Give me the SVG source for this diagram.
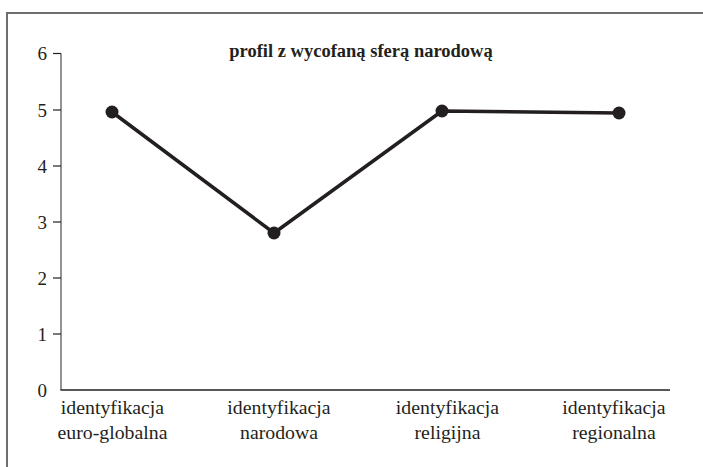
<svg xmlns="http://www.w3.org/2000/svg" width="703" height="467" viewBox="0 0 703 467">
<style>
.frame{stroke:#6d6e71;stroke-width:2;fill:none}
.axis{stroke:#231f20;stroke-width:1.5;fill:none}
.yaxis{stroke:#58595b;stroke-width:1.3;fill:none}
.tick{stroke:#231f20;stroke-width:1.2}
.tl{font-family:"Liberation Serif",serif;font-size:19px;fill:#231f20;text-anchor:end}
.lab{font-family:"Liberation Serif",serif;font-size:19.8px;fill:#231f20;text-anchor:middle}
.title{font-family:"Liberation Serif",serif;font-size:18.5px;font-weight:bold;fill:#231f20;text-anchor:middle}
.series{stroke:#231f20;stroke-width:3.5;fill:none;stroke-linejoin:round}
.pt{fill:#231f20}
</style>
<rect width="703" height="467" fill="#fff"/>
<path class="frame" d="M7,467 V13 H703"/>
<g id="axes">
<line class="yaxis" x1="61" y1="53.5" x2="61" y2="390"/>
<line class="axis" x1="60.5" y1="390" x2="670" y2="390"/>
<g class="tick">
<line x1="53" y1="53.5" x2="61" y2="53.5"/>
<line x1="53" y1="110" x2="61" y2="110"/>
<line x1="53" y1="166" x2="61" y2="166"/>
<line x1="53" y1="222" x2="61" y2="222"/>
<line x1="53" y1="278" x2="61" y2="278"/>
<line x1="53" y1="334" x2="61" y2="334"/>
</g>
<text class="tl" x="47" y="60">6</text>
<text class="tl" x="47" y="116.5">5</text>
<text class="tl" x="47" y="172.5">4</text>
<text class="tl" x="47" y="228.5">3</text>
<text class="tl" x="47" y="284.5">2</text>
<text class="tl" x="47" y="340.5">1</text>
<text class="tl" x="47" y="396.5">0</text>
</g>
<text class="title" x="361" y="57">profil z wycofaną sferą narodową</text>
<g id="connectors">
<polyline class="series" points="112,112 274,233 442,111 619,113"/>
</g>
<g id="p1"><circle class="pt" cx="112" cy="112" r="6.5"/></g>
<g id="p2"><circle class="pt" cx="274" cy="233" r="6.5"/></g>
<g id="p3"><circle class="pt" cx="442" cy="111" r="6.5"/></g>
<g id="p4"><circle class="pt" cx="619" cy="113" r="6.5"/></g>
<g id="labels">
<text class="lab" x="112.5" y="414">identyfikacja</text>
<text class="lab" x="112.5" y="439">euro-globalna</text>
<text class="lab" x="279" y="414">identyfikacja</text>
<text class="lab" x="279" y="439">narodowa</text>
<text class="lab" x="447.5" y="414">identyfikacja</text>
<text class="lab" x="447.5" y="439">religijna</text>
<text class="lab" x="614" y="414">identyfikacja</text>
<text class="lab" x="614" y="439">regionalna</text>
</g>
</svg>
